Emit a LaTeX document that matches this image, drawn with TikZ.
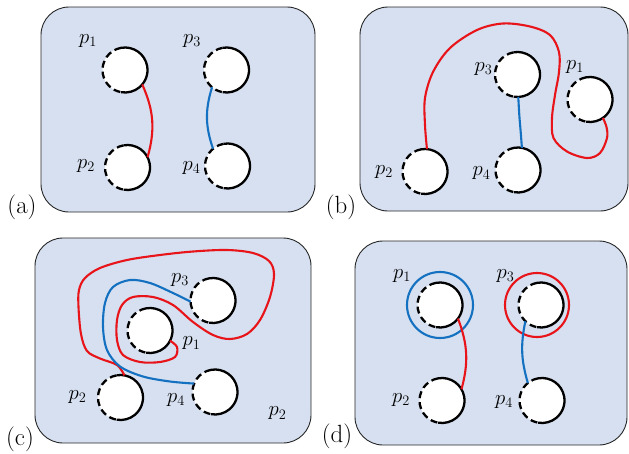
\documentclass[tikz,border=0pt]{standalone}
\definecolor{panelfill}{RGB}{214,224,240}
\definecolor{cred}{RGB}{232,20,25}
\definecolor{cblue}{RGB}{20,112,192}
\tikzset{
 panel/.style={draw=black!85, line width=0.9pt, fill=panelfill, rounded corners=28pt},
 port/.style={circle, minimum size=45pt, inner sep=0pt, outer sep=0pt, fill=white},
 portsolid/.style={draw=black, line width=2.3pt},
 portdash/.style={draw=black, line width=2.3pt, dash pattern=on 7pt off 4pt},
 redwire/.style={draw=cred, line width=2.1pt},
 bluewire/.style={draw=cblue, line width=2.1pt},
 lbl/.style={font=\huge, inner sep=0pt},
 tag/.style={font=\Huge, inner sep=0pt},
}
\newcommand\portat[3]{%
 \node[port] (#1) at (#2,-#3) {};
 \draw[portsolid] (#1.100) arc[start angle=100,end angle=-100,radius=22.5pt];
 \draw[portdash] (#1.100) arc[start angle=100,end angle=260,radius=22.5pt];
}
\begin{document}
\begin{tikzpicture}[x=1pt,y=1pt]
\useasboundingbox (0,0) rectangle (629,-453);
% panels
\draw[panel] (41,-7) rectangle (315,-212);
\draw[panel] (360,-7) rectangle (628,-211);
\draw[panel] (35,-238) rectangle (311,-443);
\draw[panel] (355,-241) rectangle (627,-445);
% tags
\node[tag] (ta) at (22,-207) {(a)};
\node[tag] (tb) at (341,-207) {(b)};
\node[tag] (tc) at (20,-439) {(c)};
\node[tag] (td) at (337,-436.5) {(d)};
% ---- (a)
\portat{a1}{125}{70}
\portat{a2}{127.5}{167.5}
\portat{a3}{226.5}{70}
\portat{a4}{227.5}{166}
\node[lbl] (la1) at (88,-41) {$p_1$};
\node[lbl] (la2) at (86,-166) {$p_2$};
\node[lbl] (la3) at (192,-41) {$p_3$};
\node[lbl] (la4) at (191.5,-168) {$p_4$};
\draw[redwire] (a1.-40) to[bend left=20] (a2.27);
\draw[bluewire] (a3.-130) to[bend right=18] (a4.130);
% ---- (b)
\portat{b1}{590}{99.5}
\portat{b2}{425}{171.5}
\portat{b3}{517.5}{74.5}
\portat{b4}{518}{170}
\node[lbl] (lb1) at (575,-67) {$p_1$};
\node[lbl] (lb2) at (384,-172) {$p_2$};
\node[lbl] (lb3) at (483.5,-69) {$p_3$};
\node[lbl] (lb4) at (481.5,-173.5) {$p_4$};
\draw[redwire] plot[smooth,tension=0.55] coordinates {(b2.85) (425,-125) (425,-98) (433,-72) (450,-48) (477,-30) (503,-23.5) (530,-26.5) (550,-35) (559,-52) (559,-72) (555,-95) (552,-118) (553.5,-138) (567,-151.5) (587,-158) (600,-153) (607,-138) (606.5,-127) (b1.-55)};
\draw[bluewire] plot[smooth,tension=0.55] coordinates {(b3.-88) (519.3,-115) (520.7,-132) (b4.80)};
% ---- (c)
\portat{c1}{150}{330.5}
\portat{c2}{120.5}{397.5}
\portat{c3}{213}{300.5}
\portat{c4}{215}{392}
\node[lbl] (lc1) at (191.5,-343.5) {$p_1$};
\node[lbl] (lc2) at (77.5,-397) {$p_2$};
\node[lbl] (lc3) at (180,-280) {$p_3$};
\node[lbl] (lc4) at (176,-400) {$p_4$};
\node[lbl] (lc5) at (277.5,-413.5) {$p_2$};
\draw[redwire] plot[smooth,tension=0.55] coordinates {(c2.80) (117,-365) (100,-358.5) (87,-351) (81,-334) (78.5,-307) (79,-290) (85,-278) (100,-268) (127,-260) (160,-255) (193,-251.5) (227,-250) (253,-253) (269,-261) (274,-274) (270,-297) (260,-320) (247,-334) (230,-339) (213,-335) (193,-322) (173,-305) (153,-297) (133,-297) (122,-305) (117,-320) (117,-340) (123,-355) (140,-362) (160,-362) (175,-357) (177,-347) (c1.-27)};
\draw[bluewire] plot[smooth,tension=0.55] coordinates {(c3.183) (173,-293) (150,-283) (130,-280) (113,-287) (105,-303) (103,-327) (107,-350) (120,-366.5) (143,-376.5) (170,-381.5) (c4.158)};
% ---- (d)
\portat{d1}{440}{305}
\portat{d2}{442}{400.5}
\portat{d3}{541}{305}
\portat{d4}{542}{400.5}
\node[lbl] (ld1) at (402,-276) {$p_1$};
\node[lbl] (ld2) at (401,-400) {$p_2$};
\node[lbl] (ld3) at (505.5,-276) {$p_3$};
\node[lbl] (ld4) at (504,-402) {$p_4$};
\draw[bluewire] (d1.center) circle (33pt);
\draw[redwire] ([xshift=-4pt]d3.center) circle (32pt);
\draw[redwire] (d1.-37) to[bend left=18] (d2.30);
\draw[bluewire] (d3.-134) to[bend right=14] (d4.129);
\end{tikzpicture}
\end{document}
